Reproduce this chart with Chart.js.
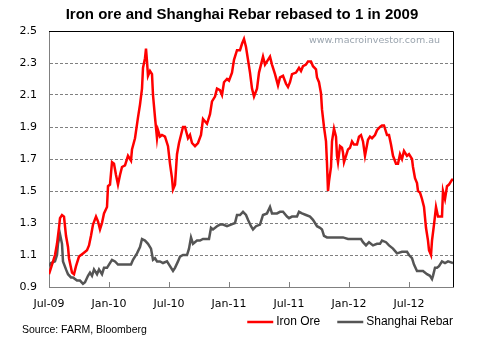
<!DOCTYPE html>
<html lang="en">
<head>
    <meta charset="UTF-8">
    <title>Iron ore and Shanghai Rebar</title>
    <script src="https://cdn.jsdelivr.net/npm/chart.js"></script>
    <style>
        body {
            margin: 0;
            background: #ffffff;
        }
        .wrap {
            width: 484px;
            height: 346px;
            position: relative;
        }
    </style>
</head>
<body>
<div class="wrap"><canvas id="chart"></canvas></div>
<script>
    // months counted from Jul-09 (0) onwards
    const xTickLabels = ["Jul-09", "Jan-10", "Jul-10", "Jan-11", "Jul-11", "Jan-12", "Jul-12"];

    const ironOreMonths = [0.0, 0.2, 0.6, 0.8, 1.0, 1.1, 1.3, 1.5, 1.7, 1.9, 2.0, 2.3, 2.5, 2.7, 3.0, 3.2, 3.4, 3.8, 4.0, 4.2,
        4.4, 4.7, 4.9, 5.1, 5.3, 5.5, 5.8, 5.9, 6.1, 6.3, 6.5, 6.7, 6.9, 7.1, 7.3, 7.6, 7.9, 8.2, 8.3, 8.6,
        8.9, 9.1, 9.3, 9.4, 9.6, 9.7, 9.8, 9.9, 10.1, 10.3, 10.4, 10.6, 10.8, 10.9, 11.1, 11.3, 11.6, 11.9, 12.1, 12.3,
        12.4, 12.6, 12.8, 13.0, 13.2, 13.4, 13.6, 13.9, 14.1, 14.3, 14.6, 14.9, 15.2, 15.4, 15.8, 16.1, 16.3, 16.6, 16.8, 17.1,
        17.3, 17.5, 17.8, 18.0, 18.3, 18.5, 18.8, 19.1, 19.3, 19.5, 19.7, 19.9, 20.1, 20.3, 20.5, 20.8, 21.0, 21.2, 21.4, 21.6,
        21.9, 22.1, 22.3, 22.6, 22.9, 23.1, 23.4, 23.7, 23.9, 24.1, 24.3, 24.7, 25.0, 25.2, 25.4, 25.7, 25.9, 26.2, 26.4, 26.7,
        26.8, 27.0, 27.2, 27.3, 27.5, 27.7, 27.8, 27.9, 28.0, 28.2, 28.3, 28.5, 28.7, 28.8, 28.9, 29.1, 29.3, 29.4, 29.5, 29.7,
        29.9, 30.1, 30.3, 30.5, 30.8, 31.0, 31.2, 31.4, 31.6, 31.9, 32.1, 32.3, 32.6, 32.8, 33.1, 33.3, 33.5, 33.8, 34.0, 34.2,
        34.4, 34.7, 34.9, 35.1, 35.3, 35.5, 35.8, 36.0, 36.3, 36.4, 36.6, 36.8, 36.9, 37.1, 37.3, 37.5, 37.7, 37.9, 38.0, 38.2,
        38.3, 38.5, 38.7, 38.9, 39.1, 39.3, 39.4, 39.6, 39.8, 40.0, 40.3, 40.4];
    const ironOre = [0.98, 1.02, 1.10, 1.17, 1.27, 1.33, 1.35, 1.34, 1.22, 1.15, 1.08, 0.99, 0.98, 1.03, 1.09, 1.10, 1.11, 1.13, 1.16, 1.22,
        1.29, 1.34, 1.31, 1.26, 1.30, 1.36, 1.40, 1.53, 1.54, 1.68, 1.67, 1.60, 1.54, 1.60, 1.65, 1.66, 1.72, 1.69, 1.76, 1.83,
        1.96, 2.04, 2.14, 2.27, 2.33, 2.39, 2.31, 2.22, 2.25, 2.23, 2.10, 1.96, 1.83, 1.88, 1.84, 1.85, 1.84, 1.78, 1.67, 1.58,
        1.51, 1.54, 1.73, 1.80, 1.85, 1.90, 1.90, 1.83, 1.85, 1.80, 1.78, 1.80, 1.85, 1.95, 1.92, 1.98, 2.06, 2.09, 2.14, 2.13,
        2.10, 2.18, 2.20, 2.19, 2.24, 2.32, 2.38, 2.38, 2.42, 2.45, 2.40, 2.32, 2.24, 2.14, 2.09, 2.14, 2.24, 2.29, 2.34, 2.29,
        2.32, 2.34, 2.29, 2.23, 2.16, 2.21, 2.22, 2.17, 2.15, 2.18, 2.23, 2.24, 2.27, 2.25, 2.28, 2.29, 2.31, 2.31, 2.28, 2.26,
        2.21, 2.18, 2.11, 2.01, 1.90, 1.81, 1.67, 1.50, 1.56, 1.65, 1.81, 1.89, 1.84, 1.72, 1.68, 1.78, 1.77, 1.74, 1.68, 1.72,
        1.76, 1.77, 1.81, 1.79, 1.79, 1.84, 1.85, 1.81, 1.72, 1.82, 1.84, 1.83, 1.85, 1.88, 1.90, 1.91, 1.91, 1.85, 1.85, 1.79,
        1.72, 1.67, 1.67, 1.73, 1.70, 1.75, 1.72, 1.73, 1.70, 1.65, 1.58, 1.55, 1.50, 1.49, 1.45, 1.40, 1.27, 1.19, 1.13, 1.10,
        1.19, 1.29, 1.40, 1.34, 1.34, 1.34, 1.50, 1.45, 1.53, 1.54, 1.57, 1.57];

    const rebarMonths = [0.0, 0.2, 0.6, 0.8, 0.9, 1.1, 1.3, 1.4, 1.7, 1.9, 2.2, 2.4, 2.8, 3.1, 3.4, 3.6, 3.9, 4.1, 4.3, 4.5,
        4.8, 5.0, 5.3, 5.5, 5.8, 6.0, 6.3, 6.6, 6.9, 7.4, 8.2, 8.4, 8.8, 9.1, 9.3, 9.6, 9.9, 10.2, 10.4, 10.6,
        10.8, 11.1, 11.4, 11.8, 12.1, 12.4, 12.6, 12.9, 13.1, 13.4, 13.8, 14.0, 14.2, 14.4, 14.8, 15.1, 15.4, 15.8, 16.0, 16.2,
        16.4, 16.8, 17.1, 17.4, 17.8, 18.2, 18.6, 18.8, 19.1, 19.4, 19.7, 19.9, 20.2, 20.4, 20.7, 21.1, 21.4, 21.8, 22.1, 22.3,
        22.8, 23.1, 23.4, 23.8, 24.0, 24.3, 24.8, 25.0, 25.3, 25.7, 26.1, 26.4, 26.8, 27.1, 27.3, 27.5, 27.8, 28.1, 28.6, 29.1,
        29.4, 29.9, 30.4, 30.9, 31.2, 31.4, 31.7, 32.0, 32.4, 32.8, 33.1, 33.3, 33.7, 34.0, 34.4, 34.8, 35.3, 35.8, 36.0, 36.3,
        36.5, 36.8, 37.1, 37.4, 37.8, 38.1, 38.3, 38.4, 38.6, 38.8, 39.0, 39.3, 39.6, 39.9, 40.4];
    const rebar = [1.03, 1.05, 1.06, 1.10, 1.17, 1.23, 1.17, 1.06, 1.01, 0.98, 0.96, 0.96, 0.94, 0.94, 0.92, 0.93, 0.97, 0.99, 0.97, 1.01,
        0.98, 1.01, 0.98, 1.02, 1.02, 1.04, 1.07, 1.06, 1.04, 1.04, 1.04, 1.07, 1.11, 1.15, 1.20, 1.19, 1.17, 1.14, 1.07, 1.08,
        1.06, 1.06, 1.05, 1.06, 1.03, 1.00, 1.02, 1.06, 1.09, 1.10, 1.10, 1.14, 1.21, 1.17, 1.19, 1.19, 1.20, 1.20, 1.20, 1.27,
        1.26, 1.28, 1.29, 1.29, 1.28, 1.29, 1.30, 1.35, 1.35, 1.37, 1.35, 1.32, 1.28, 1.26, 1.28, 1.29, 1.35, 1.36, 1.40, 1.36,
        1.36, 1.37, 1.37, 1.34, 1.33, 1.34, 1.34, 1.37, 1.36, 1.35, 1.34, 1.32, 1.28, 1.27, 1.26, 1.22, 1.21, 1.21, 1.21, 1.21,
        1.21, 1.20, 1.20, 1.20, 1.20, 1.18, 1.16, 1.18, 1.16, 1.17, 1.17, 1.19, 1.18, 1.16, 1.14, 1.11, 1.12, 1.12, 1.10, 1.08,
        1.04, 1.00, 1.00, 1.00, 0.98, 0.97, 0.95, 0.97, 1.02, 1.02, 1.03, 1.06, 1.05, 1.06, 1.05];

    const seriesNames = ["Iron Ore", "Shanghai Rebar"];
    const seriesColors = ["#ff0000", "#555555"];

    function toPoints(xs, ys) {
        return xs.map((x, i) => ({ x: x, y: ys[i] }));
    }

    // title, watermark, frame, legend and source note
    const decorations = {
        id: "decorations",
        afterDraw(chart) {
            const ctx = chart.ctx;
            const area = chart.chartArea;
            ctx.save();

            // black frame on top and right
            ctx.strokeStyle = "#000000";
            ctx.lineWidth = 1;
            ctx.beginPath();
            ctx.moveTo(area.left, Math.round(area.top) + 0.5);
            ctx.lineTo(Math.round(area.right) + 0.5, Math.round(area.top) + 0.5);
            ctx.lineTo(Math.round(area.right) + 0.5, area.bottom);
            ctx.stroke();

            ctx.fillStyle = "#000000";
            ctx.font = "bold 15px 'Liberation Sans'";
            ctx.textAlign = "center";
            ctx.textBaseline = "middle";
            ctx.fillText("Iron ore and Shanghai Rebar rebased to 1 in 2009", chart.width / 2, 15);

            ctx.fillStyle = "#9aa4ae";
            ctx.font = "9.5px 'DejaVu Sans'";
            ctx.textAlign = "right";
            ctx.fillText("www.macroinvestor.com.au", area.right - 13, area.top + 10);

            // legend, right aligned with the plot
            ctx.font = "12px 'Liberation Sans'";
            ctx.textAlign = "left";
            ctx.fillStyle = "#000000";
            const legendY = 322;
            let x = area.right;
            for (let i = seriesNames.length - 1; i >= 0; i--) {
                const w = ctx.measureText(seriesNames[i]).width;
                x -= w;
                ctx.fillText(seriesNames[i], x, legendY);
                ctx.strokeStyle = seriesColors[i];
                ctx.lineWidth = 2.5;
                ctx.beginPath();
                ctx.moveTo(x - 29, legendY);
                ctx.lineTo(x - 3, legendY);
                ctx.stroke();
                x -= 29 + 17;
            }

            ctx.font = "10.5px 'Liberation Sans'";
            ctx.fillText("Source: FARM, Bloomberg", 22, 330);
            ctx.restore();
        }
    };

    new Chart(document.getElementById("chart"), {
        type: "line",
        data: {
            datasets: [{
                label: seriesNames[0],
                data: toPoints(ironOreMonths, ironOre),
                borderColor: seriesColors[0],
                backgroundColor: seriesColors[0],
                borderWidth: 2.5,
                pointRadius: 0,
                tension: 0
            }, {
                label: seriesNames[1],
                data: toPoints(rebarMonths, rebar),
                borderColor: seriesColors[1],
                backgroundColor: seriesColors[1],
                borderWidth: 2.5,
                pointRadius: 0,
                tension: 0
            }]
        },
        options: {
            responsive: true,
            maintainAspectRatio: false,
            animation: false,
            layout: { padding: { top: 31, right: 31, bottom: 29, left: 0 } },
            plugins: {
                legend: { display: false },
                title: { display: false },
                tooltip: { enabled: false }
            },
            scales: {
                x: {
                    type: "linear",
                    min: 0,
                    max: 40.4,
                    afterFit: scale => { scale.height = 30; },
                    grid: {
                        drawOnChartArea: false,
                        drawTicks: true,
                        tickLength: -5,
                        color: "#808080"
                    },
                    border: { color: "#808080" },
                    ticks: {
                        stepSize: 6,
                        includeBounds: false,
                        autoSkip: false,
                        maxRotation: 0,
                        padding: 16,
                        color: "#000000",
                        font: { family: "'DejaVu Sans'", size: 11 },
                        callback: v => xTickLabels[Math.round(v / 6)]
                    }
                },
                y: {
                    min: 0.9,
                    max: 2.5,
                    afterFit: scale => { scale.width = 49; },
                    grid: {
                        drawTicks: false,
                        color: "#808080"
                    },
                    border: { color: "#808080", dash: [3, 2] },
                    ticks: {
                        stepSize: 0.2,
                        padding: 12,
                        color: "#000000",
                        font: { family: "'DejaVu Sans'", size: 11 },
                        callback: v => v.toFixed(1)
                    }
                }
            }
        },
        plugins: [decorations]
    });
</script>
</body>
</html>
